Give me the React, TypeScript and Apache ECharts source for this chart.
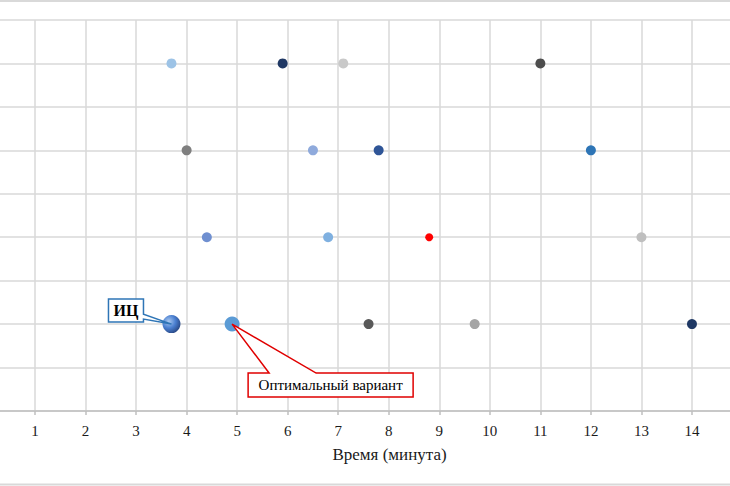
import React, { useEffect, useRef } from "react";
import * as echarts from "echarts";

// Data
const xTicks = [1, 2, 3, 4, 5, 6, 7, 8, 9, 10, 11, 12, 13, 14];
const pointX = [3.7, 5.9, 7.1, 11.0, 4.0, 6.5, 7.8, 12.0, 4.4, 6.8, 8.8, 13.0, 3.7, 4.9, 7.6, 9.7, 14.0];
const pointY = [8, 8, 8, 8, 6, 6, 6, 6, 4, 4, 4, 4, 2, 2, 2, 2, 2];
const xAxisTitle = "Время (минута)";
const icLabel = "ИЦ";
const optimalLabel = "Оптимальный вариант";
const icIndex = 12;
const optimalIndex = 13;

// Styles
const pointColors = [
  "#9dc3e6", "#203864", "#c9c9c9", "#4d4d4d",
  "#7f7f7f", "#8faadc", "#2f5597", "#2e75b6",
  "#6f8fd0", "#7fb0e0", "#ff0000", "#bfbfbf",
  "#4472c4", "#5b9bd5", "#595959", "#a5a5a5", "#1f3864",
];
const pointSizes = [10, 10, 10, 10, 10, 10, 10, 10, 10, 10, 8, 10, 18, 15, 10, 10, 10];

const SERIF = "Liberation Serif, serif";

export default function App() {
  const ref = useRef<HTMLDivElement>(null);
  useEffect(() => {
    if (!ref.current) return;
    const chart = echarts.init(ref.current, undefined, { renderer: "svg" });
    const data = pointX.map((x, i) => {
      const item: any = {
        value: [x, pointY[i]],
        symbolSize: pointSizes[i],
        itemStyle: { color: pointColors[i], opacity: 1 },
      };
      if (i === icIndex) {
        item.itemStyle = {
          opacity: 1,
          color: {
            type: "radial",
            x: 0.35,
            y: 0.35,
            r: 0.75,
            colorStops: [
              { offset: 0, color: "#a9c8f0" },
              { offset: 0.5, color: "#4a7fd0" },
              { offset: 1, color: "#24407a" },
            ],
          },
        };
      }
      return item;
    });
    chart.setOption({
      animation: false,
      textStyle: { fontFamily: SERIF },
      grid: {
        left: -15.5,
        right: -12.5,
        top: 20,
        bottom: 75,
        outerBoundsMode: "none",
        containLabel: false,
      },
      xAxis: {
        type: "value",
        min: 0,
        max: 15,
        interval: 1,
        name: xAxisTitle,
        nameLocation: "middle",
        nameGap: 35,
        nameTextStyle: { fontFamily: SERIF, fontSize: 17, color: "#1a1a1a", padding: [0, 0, 0, 52] },
        axisLine: { show: true, lineStyle: { color: "#bfbfbf", width: 1.5 } },
        axisTick: { show: true, length: 4, lineStyle: { color: "#bfbfbf", width: 1.5 } },
        axisLabel: {
          fontFamily: SERIF,
          fontSize: 15,
          color: "#1a1a1a",
          margin: 12,
          formatter: (v: number) => (xTicks.includes(v) ? String(v) : ""),
        },
        splitLine: { show: true, lineStyle: { color: "#d9d9d9", width: 1.5 } },
      },
      yAxis: {
        type: "value",
        min: 0,
        max: 9,
        interval: 1,
        axisLine: { show: false },
        axisTick: { show: false },
        axisLabel: { show: false },
        splitLine: { show: true, lineStyle: { color: "#d9d9d9", width: 1.5 } },
      },
      series: [
        {
          type: "scatter",
          data,
          z: 3,
        },
      ],
    });

    const ic = chart.convertToPixel({ gridIndex: 0 }, [pointX[icIndex], pointY[icIndex]]) as number[];
    const op = chart.convertToPixel({ gridIndex: 0 }, [pointX[optimalIndex], pointY[optimalIndex]]) as number[];
    const [ix, iy] = ic;
    const [ox, oy] = op;

    chart.setOption({
      graphic: [
        {
          type: "line",
          shape: { x1: 0, y1: 1, x2: 730, y2: 1 },
          style: { stroke: "#d9d9d9", lineWidth: 2 },
          silent: true,
        },
        {
          type: "line",
          shape: { x1: 0, y1: 484.5, x2: 730, y2: 484.5 },
          style: { stroke: "#d9d9d9", lineWidth: 2 },
          silent: true,
        },
        {
          type: "polygon",
          z: 10,
          shape: {
            points: [
              [ix - 63, iy - 25],
              [ix - 28, iy - 25],
              [ix - 28, iy - 10],
              [ix, iy],
              [ix - 28, iy - 5],
              [ix - 28, iy - 2],
              [ix - 63, iy - 2],
            ],
          },
          style: { fill: "#fff", stroke: "#2e75b6", lineWidth: 1.5 },
        },
        {
          type: "text",
          z: 11,
          x: ix - 45.5,
          y: iy - 13.5,
          style: {
            text: icLabel,
            fontFamily: SERIF,
            fontSize: 16,
            fontWeight: "bold",
            fill: "#000",
            align: "center",
            verticalAlign: "middle",
          },
        },
        {
          type: "polygon",
          z: 10,
          shape: {
            points: [
              [ox + 16, oy + 49],
              [ox + 37, oy + 49],
              [ox, oy],
              [ox + 84, oy + 49],
              [ox + 181, oy + 49],
              [ox + 181, oy + 73],
              [ox + 16, oy + 73],
            ],
          },
          style: { fill: "#fff", stroke: "#e00000", lineWidth: 1.5 },
        },
        {
          type: "text",
          z: 11,
          x: ox + 98.5,
          y: oy + 61,
          style: {
            text: optimalLabel,
            fontFamily: SERIF,
            fontSize: 15,
            fill: "#000",
            align: "center",
            verticalAlign: "middle",
          },
        },
      ],
    });

    return () => chart.dispose();
  }, []);
  return (
    <div
      ref={ref}
      style={{ position: "fixed", left: 0, top: 0, width: 730, height: 486, background: "#fff" }}
    />
  );
}
